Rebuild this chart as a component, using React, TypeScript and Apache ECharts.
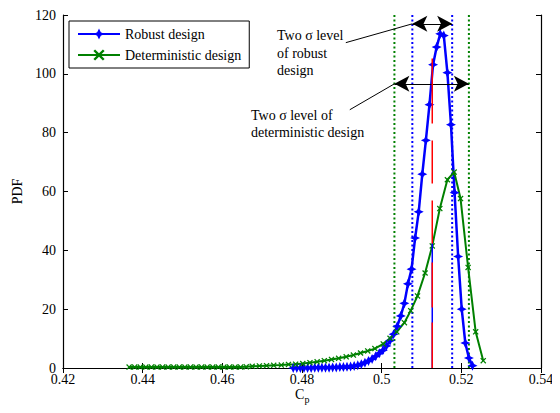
import { useEffect, useRef } from "react";
import * as echarts from "echarts";

const FONT = '"Liberation Serif", "Times New Roman", serif';

const xTicksMin = 0.42;
const xTicksMax = 0.54;
const xStep = 0.02;
const yMin = 0;
const yMax = 120;
const yStep = 20;

const robustCp = [
  0.4778, 0.4787, 0.4796, 0.4805, 0.4814, 0.4823, 0.4832, 0.4841, 0.485, 0.4859,
  0.4868, 0.4877, 0.4886, 0.4895, 0.4904, 0.4913, 0.4922, 0.4931, 0.494, 0.4949,
  0.4958, 0.4967, 0.4976, 0.4985, 0.4994, 0.5003, 0.5012, 0.5021, 0.503, 0.5039,
  0.5048, 0.5057, 0.5066, 0.5075, 0.5084, 0.5093, 0.5102, 0.5111, 0.512, 0.5129,
  0.5138, 0.5147, 0.5156, 0.5165, 0.5174, 0.5183, 0.5192, 0.5201, 0.521, 0.5219,
  0.5228,
];
const robustPdf = [
  0, 0, 0, 0, 0, 0, 0.1, 0.1, 0.1, 0.1,
  0.1, 0.2, 0.2, 0.3, 0.3, 0.4, 0.5, 0.7, 0.9, 1.3,
  1.8, 2.4, 3.1, 4.0, 5.0, 6.0, 7.5, 9.3, 11.5, 14.2,
  17.7, 22.0, 28.6, 33.6, 44.2, 53.1, 65.9, 77.4, 89.5, 103.1,
  109.1, 113.6, 113.0, 100.4, 82.7, 59.6, 37.9, 20.0, 8.5, 3.4,
  0.8,
];

const detCp = [
  0.4366, 0.438, 0.4394, 0.4408, 0.4422, 0.4436, 0.445, 0.4464, 0.4478, 0.4492,
  0.4506, 0.452, 0.4534, 0.4548, 0.4562, 0.4576, 0.459, 0.4604, 0.4618, 0.4632,
  0.4646, 0.466, 0.4675, 0.4693, 0.4711, 0.4729, 0.4748, 0.4766, 0.4784, 0.4802,
  0.482, 0.4838, 0.4856, 0.4874, 0.4892, 0.4911, 0.4929, 0.4947, 0.4965, 0.4983,
  0.5004, 0.5021, 0.5038, 0.5057, 0.5073, 0.509, 0.5109, 0.5127, 0.5146, 0.5165,
  0.5182, 0.5198, 0.5217, 0.5236, 0.5255,
];
const detPdf = [
  0.3, 0.3, 0.3, 0.3, 0.3, 0.3, 0.3, 0.3, 0.3, 0.3,
  0.3, 0.3, 0.3, 0.3, 0.3, 0.3, 0.3, 0.3, 0.3, 0.3,
  0.3, 0.4, 0.6, 0.7, 0.8, 0.9, 1.0, 1.2, 1.3, 1.5,
  1.8, 2.1, 2.5, 2.9, 3.3, 3.8, 4.4, 5.1, 5.8, 6.6,
  8.2, 10.1, 12.3, 15.4, 19.5, 24.5, 32.3, 41.5, 54.2, 64.0,
  66.6, 57.6, 34.2, 12.3, 2.5,
];

const robustBand = [0.5077, 0.5177];
const detBand = [0.5032, 0.5219];
const meanCp = 0.5127;
const meanTop = 105.2;
const meanBlueTop = 42.4;
const robustArrowY = 117;
const detArrowY = 96.6;
const robustLeader = [[0.491, 110.6], [0.5077, 117]];
const detLeader = [[0.492, 87.8], [0.5032, 96.6]];

const BLUE = "#0000ff";
const GREEN = "#008000";
const RED = "#ff0000";

const starPath =
  "path://M0,-10 L3.2,-3.2 L10,0 L3.2,3.2 L0,10 L-3.2,3.2 L-10,0 L-3.2,-3.2 Z";
const crossPath =
  "path://M-5,-3.5 L-3.5,-5 L0,-1.5 L3.5,-5 L5,-3.5 L1.5,0 L5,3.5 L3.5,5 L0,1.5 L-3.5,5 L-5,3.5 L-1.5,0 Z";

function vline(x: number, color: string, top: number = yMax) {
  return {
    type: "line",
    data: [
      [x, 0],
      [x, top],
    ],
    symbol: "none",
    silent: true,
    lineStyle: { color, width: 2, type: [2, 2.5] },
    z: 3,
  };
}

export default function App() {
  const ref = useRef<HTMLDivElement>(null);
  useEffect(() => {
    if (!ref.current) return;
    const chart = echarts.init(ref.current, null, { renderer: "svg" });
    const axisCommon = {
      type: "value",
      axisLine: { show: true, lineStyle: { color: "#000", width: 1.2 } },
      axisTick: { show: true, inside: true, length: 5, lineStyle: { color: "#000" } },
      splitLine: { show: false },
    };
    chart.setOption({
      animation: false,
      backgroundColor: "#fff",
      grid: { left: 63, right: 19, top: 15, bottom: 45, containLabel: false },
      legend: {
        data: ["Robust design", "Deterministic design"],
        orient: "vertical",
        left: 69,
        top: 21,
        backgroundColor: "#fff",
        borderColor: "#000",
        borderWidth: 1,
        padding: [6, 8, 6, 8],
        itemGap: 7,
        itemWidth: 42,
        itemHeight: 14,
        textStyle: { fontSize: 14, color: "#000", fontFamily: FONT },
      },
      xAxis: [
        {
          ...axisCommon,
          min: xTicksMin,
          max: xTicksMax,
          interval: xStep,
          axisLabel: { color: "#000", fontSize: 14, fontFamily: FONT, margin: 4 },
        },
        {
          ...axisCommon,
          position: "top",
          min: xTicksMin,
          max: xTicksMax,
          interval: xStep,
          axisLabel: { show: false },
        },
      ],
      yAxis: [
        {
          ...axisCommon,
          min: yMin,
          max: yMax,
          interval: yStep,
          name: "PDF",
          nameLocation: "middle",
          nameGap: 36,
          nameTextStyle: { color: "#000", fontSize: 14, fontFamily: FONT },
          axisLabel: { color: "#000", fontSize: 14, fontFamily: FONT, margin: 7 },
        },
        {
          ...axisCommon,
          position: "right",
          min: yMin,
          max: yMax,
          interval: yStep,
          axisLabel: { show: false },
        },
      ],
      graphic: [
        {
          type: "text",
          left: 277,
          top: 27,
          style: {
            text: "Two σ level\nof robust\ndesign",
            font: `14px ${FONT}`,
            fill: "#000",
            lineHeight: 17.5,
          },
        },
        {
          type: "text",
          left: 251,
          top: 107,
          style: {
            text: "Two σ level of\ndeterministic design",
            font: `14px ${FONT}`,
            fill: "#000",
            lineHeight: 17,
          },
        },
        {
          type: "text",
          x: 295,
          y: 387,
          style: { text: "C", font: `14px ${FONT}`, fill: "#000", verticalAlign: "top" },
        },
        {
          type: "text",
          x: 304.5,
          y: 394,
          style: { text: "p", font: `10px ${FONT}`, fill: "#000", verticalAlign: "top" },
        },
      ],
      series: [
        {
          name: "Robust design",
          type: "line",
          data: robustCp.map((x, i) => [x, robustPdf[i]]),
          symbol: starPath,
          symbolSize: 10,
          showAllSymbol: true,
          lineStyle: { color: BLUE, width: 2.5 },
          itemStyle: { color: BLUE },
          color: BLUE,
          z: 4,
        },
        {
          name: "Deterministic design",
          type: "line",
          data: detCp.map((x, i) => [x, detPdf[i]]),
          symbol: crossPath,
          symbolSize: 6,
          showAllSymbol: true,
          lineStyle: { color: GREEN, width: 2 },
          itemStyle: { color: GREEN },
          color: GREEN,
          z: 4,
        },
        vline(robustBand[0], BLUE),
        vline(robustBand[1], BLUE),
        vline(detBand[0], GREEN),
        vline(detBand[1], GREEN),
        {
          type: "line",
          data: [
            [meanCp, 0],
            [meanCp, meanBlueTop],
          ],
          symbol: "none",
          silent: true,
          lineStyle: { color: BLUE, width: 1.5 },
          z: 5,
        },
        {
          type: "line",
          data: [
            [meanCp, meanTop],
            [meanCp, 0],
          ],
          symbol: "none",
          silent: true,
          lineStyle: { color: RED, width: 1.5, type: [65, 17, 43, 17, 43, 19, 45, 15, 46] },
          z: 6,
        },
        {
          type: "line",
          data: robustLeader,
          symbol: "none",
          silent: true,
          lineStyle: { color: "#000", width: 1 },
          z: 6,
        },
        {
          type: "line",
          data: detLeader,
          symbol: "none",
          silent: true,
          lineStyle: { color: "#000", width: 1 },
          z: 6,
        },
        {
          type: "line",
          data: [],
          silent: true,
          markLine: {
            silent: true,
            symbol: ["arrow", "arrow"],
            symbolSize: [12, 15],
            label: { show: false },
            lineStyle: { color: "#000", width: 1.2, type: "solid" },
            data: [
              [
                { coord: [robustBand[0], robustArrowY] },
                { coord: [robustBand[1], robustArrowY] },
              ],
              [
                { coord: [detBand[0], detArrowY] },
                { coord: [detBand[1], detArrowY] },
              ],
            ],
          },
          z: 7,
        },
      ],
    });
    return () => chart.dispose();
  }, []);
  return <div ref={ref} style={{ width: 560, height: 413, margin: -8 }} />;
}
